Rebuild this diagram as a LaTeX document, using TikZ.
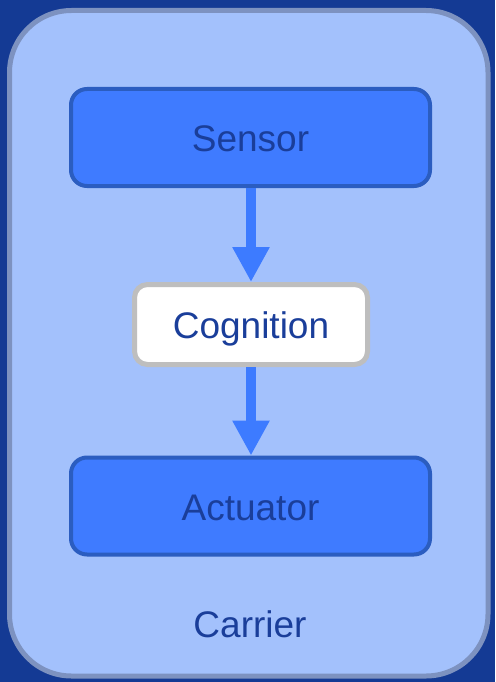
\documentclass[tikz,border=0pt]{standalone}
\usepackage{fontspec}
\setmainfont{Liberation Sans}
\usetikzlibrary{arrows.meta}
\definecolor{bgblue}{HTML}{143A94}
\definecolor{carrierfill}{HTML}{A3C1FC}
\definecolor{carrierline}{HTML}{7D92C0}
\definecolor{boxfill}{HTML}{3F7BFF}
\definecolor{boxline}{HTML}{2B5DC0}
\definecolor{txtblue}{HTML}{1A3E9A}
\definecolor{arrowblue}{HTML}{3D7BFF}
\definecolor{cogline}{HTML}{BEBEBE}
\begin{document}
\begin{tikzpicture}[x=1pt,y=-1pt,
  lbl/.style={text=txtblue,font=\fontsize{37}{40}\selectfont,text height=28pt,text depth=0pt},
  bluebox/.style={lbl,draw=boxline,fill=boxfill,line width=4pt,rounded corners=16pt,
    minimum width=359pt,minimum height=97pt,inner sep=0pt},
  whitebox/.style={lbl,draw=cogline,fill=white,line width=5pt,rounded corners=13pt,
    minimum width=233pt,minimum height=80pt,inner sep=0pt},
  flow/.style={draw=arrowblue,line width=10pt,-{Triangle[width=35pt,length=35pt]}}
]
\useasboundingbox (0,0) rectangle (495,682);
\fill[bgblue] (0,0) rectangle (495,682);
\draw[carrierline,fill=carrierfill,line width=5pt,rounded corners=62pt] (9.5,10.5) rectangle (488,676);
\node[bluebox] (sensor) at (250.5,137.5) {Sensor};
\node[whitebox] (cog) at (251,324.5) {Cognition};
\node[bluebox] (act) at (250.5,506) {Actuator};
\node[lbl,inner sep=0pt] (carrier) at (250,623) {Carrier};
\draw[flow] (sensor.south -| cog.north) -- (cog.north);
\draw[flow] (cog.south) -- (act.north -| cog.south);
\end{tikzpicture}
\end{document}
